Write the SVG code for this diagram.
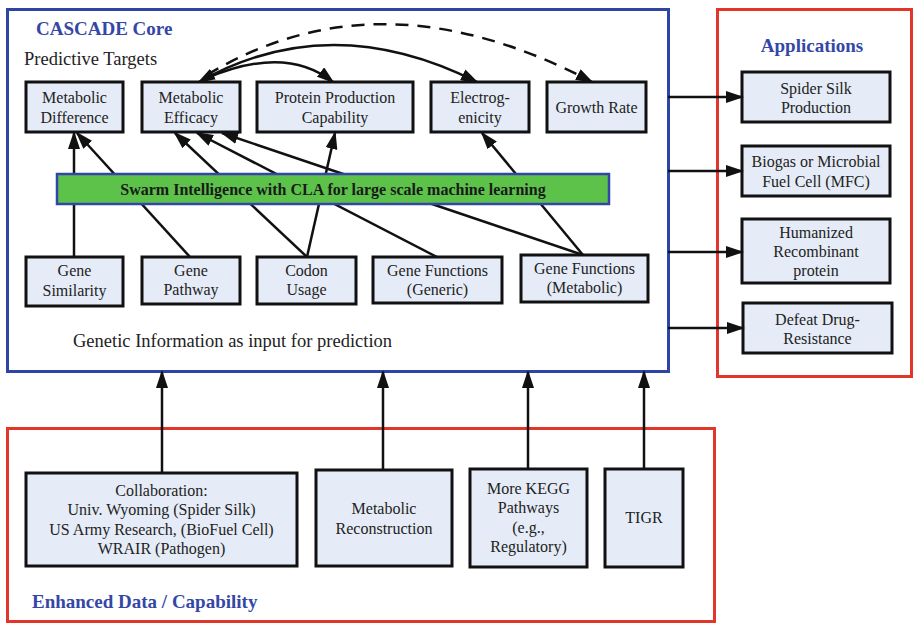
<svg xmlns="http://www.w3.org/2000/svg" width="914" height="623" viewBox="0 0 914 623">
  <style>
    .frame-blue { fill: #ffffff; stroke: #2f45a6; stroke-width: 3; }
    .frame-red { fill: none; stroke: #e2362a; stroke-width: 3; }
    .box { fill: #e5ecf7; stroke: #111111; stroke-width: 3; }
    .t { font-family: "Liberation Serif", "Times New Roman", serif; font-size: 16px; fill: #222222; text-anchor: middle; }
    .lbl { font-family: "Liberation Serif", "Times New Roman", serif; font-size: 18.5px; fill: #222222; }
    .title { font-family: "Liberation Serif", "Times New Roman", serif; font-size: 19px; font-weight: bold; fill: #3447a6; }
    .bar { fill: #5cc24a; stroke: #3346a8; stroke-width: 2.5; }
    .bar-t { font-family: "Liberation Serif", "Times New Roman", serif; font-size: 16px; font-weight: bold; fill: #1a1a1a; text-anchor: middle; }
    .edge { fill: none; stroke: #111111; stroke-width: 2.5; marker-end: url(#ah); }
    .dashed { stroke-dasharray: 13 9; }
  </style>
  <defs>
    <marker id="ah" markerUnits="userSpaceOnUse" markerWidth="18" markerHeight="12" refX="16" refY="6" orient="auto">
      <path d="M0,0 L18,6 L0,12 z" fill="#111111"/>
    </marker>
    <marker id="ahs" markerUnits="userSpaceOnUse" markerWidth="18" markerHeight="12" refX="16" refY="6" orient="auto-start-reverse">
      <path d="M0,0 L18,6 L0,12 z" fill="#111111"/>
    </marker>
  </defs>

  <!-- containers -->
  <g id="core">
    <rect class="frame-blue" x="7.5" y="9.5" width="661" height="362"/>
    <text class="title" x="36" y="35">CASCADE Core</text>
    <text class="lbl" x="24" y="65">Predictive Targets</text>
    <text class="lbl" x="73" y="347">Genetic Information as input for prediction</text>
  </g>
  <g id="applications">
    <rect class="frame-red" x="717.5" y="9.5" width="194" height="367"/>
    <text class="title" x="812" y="52" text-anchor="middle">Applications</text>
  </g>
  <g id="enhanced">
    <rect class="frame-red" x="7.5" y="428.5" width="707" height="193"/>
    <text class="title" x="32" y="608">Enhanced Data / Capability</text>
  </g>

  <!-- predictive targets -->
  <g id="t-diff">
    <rect class="box" x="26" y="82" width="97" height="50"/>
    <text class="t" x="74.5" y="102.5">Metabolic</text>
    <text class="t" x="74.5" y="122.5">Difference</text>
  </g>
  <g id="t-eff">
    <rect class="box" x="142" y="82" width="98" height="50"/>
    <text class="t" x="191" y="102.5">Metabolic</text>
    <text class="t" x="191" y="122.5">Efficacy</text>
  </g>
  <g id="t-ppc">
    <rect class="box" x="257" y="82" width="156" height="50"/>
    <text class="t" x="335" y="102.5">Protein Production</text>
    <text class="t" x="335" y="122.5">Capability</text>
  </g>
  <g id="t-elec">
    <rect class="box" x="431" y="82" width="98" height="50"/>
    <text class="t" x="480" y="102.5">Electrog-</text>
    <text class="t" x="480" y="122.5">enicity</text>
  </g>
  <g id="t-growth">
    <rect class="box" x="547" y="82" width="99" height="50"/>
    <text class="t" x="596.5" y="113">Growth Rate</text>
  </g>

  <!-- genetic inputs -->
  <g id="i-sim">
    <rect class="box" x="26" y="257" width="97" height="49"/>
    <text class="t" x="74.5" y="275.5">Gene</text>
    <text class="t" x="74.5" y="295.5">Similarity</text>
  </g>
  <g id="i-path">
    <rect class="box" x="142" y="257" width="98" height="47"/>
    <text class="t" x="191" y="275.5">Gene</text>
    <text class="t" x="191" y="295">Pathway</text>
  </g>
  <g id="i-codon">
    <rect class="box" x="257" y="257" width="99" height="47"/>
    <text class="t" x="306.5" y="275.5">Codon</text>
    <text class="t" x="306.5" y="295">Usage</text>
  </g>
  <g id="i-generic">
    <rect class="box" x="373" y="257" width="129" height="46"/>
    <text class="t" x="437.5" y="275.5">Gene Functions</text>
    <text class="t" x="437.5" y="295">(Generic)</text>
  </g>
  <g id="i-metab">
    <rect class="box" x="521" y="255" width="127" height="47"/>
    <text class="t" x="584.5" y="273.5">Gene Functions</text>
    <text class="t" x="584.5" y="293">(Metabolic)</text>
  </g>

  <!-- applications -->
  <g id="a-silk">
    <rect class="box" x="742" y="72" width="148" height="50"/>
    <text class="t" x="816" y="93.5">Spider Silk</text>
    <text class="t" x="816" y="112.5">Production</text>
  </g>
  <g id="a-biogas">
    <rect class="box" x="742" y="146" width="148" height="50"/>
    <text class="t" x="816" y="166.5">Biogas or Microbial</text>
    <text class="t" x="816" y="187">Fuel Cell (MFC)</text>
  </g>
  <g id="a-human">
    <rect class="box" x="742" y="219" width="148" height="64"/>
    <text class="t" x="816" y="237.5">Humanized</text>
    <text class="t" x="816" y="256.5">Recombinant</text>
    <text class="t" x="816" y="276">protein</text>
  </g>
  <g id="a-drug">
    <rect class="box" x="743" y="303" width="149" height="50"/>
    <text class="t" x="817.5" y="324.5">Defeat Drug-</text>
    <text class="t" x="817.5" y="343.5">Resistance</text>
  </g>

  <!-- data sources -->
  <g id="b-collab">
    <rect class="box" x="26" y="473" width="271" height="93"/>
    <text class="t" x="161.5" y="495.5">Collaboration:</text>
    <text class="t" x="161.5" y="515">Univ. Wyoming (Spider Silk)</text>
    <text class="t" x="161.5" y="534.5">US Army Research, (BioFuel Cell)</text>
    <text class="t" x="161.5" y="554">WRAIR (Pathogen)</text>
  </g>
  <g id="b-recon">
    <rect class="box" x="316" y="470" width="136" height="96"/>
    <text class="t" x="384" y="513.5">Metabolic</text>
    <text class="t" x="384" y="533.5">Reconstruction</text>
  </g>
  <g id="b-kegg">
    <rect class="box" x="470" y="469" width="117" height="98"/>
    <text class="t" x="528.5" y="493.5">More KEGG</text>
    <text class="t" x="528.5" y="513">Pathways</text>
    <text class="t" x="528.5" y="532.5">(e.g.,</text>
    <text class="t" x="528.5" y="552">Regulatory)</text>
  </g>
  <g id="b-tigr">
    <rect class="box" x="605" y="469" width="78" height="98"/>
    <text class="t" x="644" y="522.5">TIGR</text>
  </g>

  <!-- connectors -->
  <g id="connectors">
    <!-- inputs to targets (pass behind the learning bar) -->
    <path class="edge" d="M74,257 L74,133"/>
    <path class="edge" d="M190,257 L77,133"/>
    <path class="edge" d="M307,257 L175,133"/>
    <path class="edge" d="M307,257 L335,133"/>
    <path class="edge" d="M437,257 L197,133"/>
    <path class="edge" d="M583,255 L222,133"/>
    <path class="edge" d="M583,255 L482,133"/>
    <!-- links between targets -->
    <path class="edge" d="M205,79 Q285,44 333,82"/>
    <path class="edge" d="M199,82 Q330,8 477,82" marker-start="url(#ahs)"/>
    <path class="edge dashed" d="M207,75 Q380,-30 592,82"/>
    <!-- core to applications -->
    <path class="edge" d="M668,97 L742,97"/>
    <path class="edge" d="M668,171 L742,171"/>
    <path class="edge" d="M668,252 L742,252"/>
    <path class="edge" d="M668,328 L743,328"/>
    <!-- data sources to core -->
    <path class="edge" d="M162,473 L162,372"/>
    <path class="edge" d="M383,470 L383,372"/>
    <path class="edge" d="M528,469 L528,372"/>
    <path class="edge" d="M644,469 L644,372"/>
  </g>

  <!-- learning bar -->
  <g id="swarm">
    <rect class="bar" x="57" y="174" width="552" height="30"/>
    <text class="bar-t" x="333" y="194.5">Swarm Intelligence with CLA for large scale machine learning</text>
  </g>
</svg>
